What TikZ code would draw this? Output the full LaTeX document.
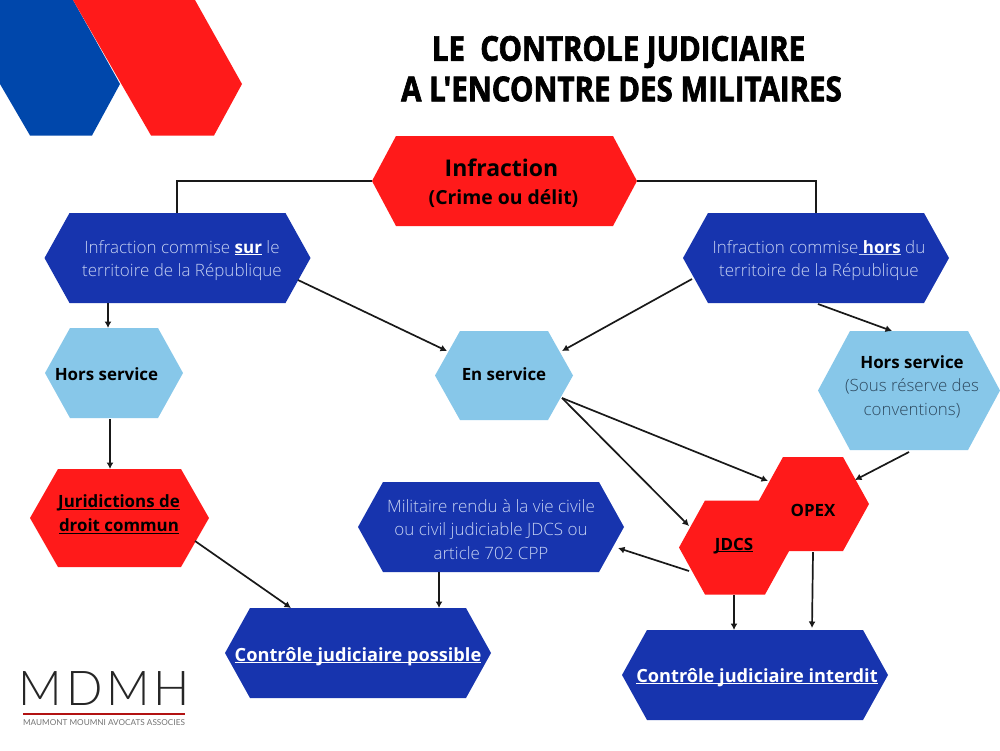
\documentclass[tikz,border=0pt]{standalone}
\usepackage{fontspec}
\setmainfont{Open Sans}
\newfontfamily\regf{Open Sans}
\newfontfamily\lightf[BoldFont=Open Sans Bold]{Open Sans Light}
\newfontfamily\titlef[FakeStretch=0.86,FakeBold=2]{Open Sans Bold}
\newfontfamily\logof[LetterSpace=8]{Lato Light}
\newfontfamily\logosmall{Lato}
\usetikzlibrary{shapes.symbols,calc,arrows.meta}
\definecolor{logoblue}{HTML}{0047AB}
\definecolor{hexred}{HTML}{FF1A1A}
\definecolor{hexblue}{HTML}{1734AE}
\definecolor{hexsky}{HTML}{87C7E9}
\definecolor{paletext}{HTML}{C6D2F2}
\definecolor{slatetext}{HTML}{2E4A60}
\newcommand\ubar[1]{\setbox0=\hbox{#1}\rlap{\rule[-2pt]{\wd0}{1.3pt}}\box0\relax}
\tikzset{
  x=1pt,y=-1pt,
  hx/.style n args={3}{shape=signal,signal to=east and west,
    signal pointer angle={2*atan((#2/2)/#3)},minimum width=#1pt,minimum height=#2pt,
    inner sep=0pt,outer sep=0pt,draw=none},
  conn/.style={draw=black!90,line width=1.7pt},
  arr/.style={conn,-{Latex[length=6.5pt,width=7pt]}},
  paletxt/.style={align=center,text=paletext,font=\lightf\fontsize{17}{23.3}\selectfont,inner sep=0pt},
  blacktxt/.style={align=center,text=black,font=\bfseries\fontsize{16.9}{24}\selectfont,inner sep=0pt},
  whitetxt/.style={align=center,text=white,font=\bfseries\fontsize{18.2}{22}\selectfont,inner sep=0pt},
  titletxt/.style={align=center,text=black,font=\titlef\fontsize{34.3}{38}\selectfont,inner sep=0pt},
}
\begin{document}
\begin{tikzpicture}
\useasboundingbox (0,0) rectangle (1000,750);
\fill[white] (0,0) rectangle (1000,750);
% logo
\fill[logoblue] (0,0) -- (73,0) -- (120,84) -- (92,135.5) -- (30,135.5) -- (0,84) -- cycle;
\fill[hexred] (73,0) -- (195,0) -- (242,84) -- (214,135.5) -- (151,135.5) -- cycle;
% title
\node[titletxt] (title1) at (618.5,52) {LE\ \ CONTROLE JUDICIAIRE};
\node[titletxt] (title2) at (621.5,89) {A L'ENCONTRE DES MILITAIRES};
% hexagons
\node[hx={265}{90}{24},fill=hexred] (inf) at (504.5,181) {};
\node[hx={266}{90}{25},fill=hexblue] (sur) at (177.5,258) {};
\node[hx={266}{90}{25},fill=hexblue] (hors) at (816,258) {};
\node[hx={138}{90}{25},fill=hexsky] (hsl) at (114,373) {};
\node[hx={138}{89}{25},fill=hexsky] (ens) at (504,375.5) {};
\node[hx={182}{119}{32},fill=hexsky] (hsr) at (909,390.5) {};
\node[hx={179}{98}{28},fill=hexred] (jur) at (119.5,518) {};
\node[hx={266}{90}{25},fill=hexblue] (mil) at (491,527) {};
\node[hx={266}{90}{25},fill=hexblue] (pos) at (358,653) {};
\node[hx={266}{90}{25},fill=hexblue] (int) at (755,675) {};
\node[hx={112}{94}{26},fill=hexred] (opex) at (813,504) {};
\node[hx={112}{94}{26},fill=hexred] (jdcs) at (735,547.5) {};
% texts
\node[align=center,inner sep=0pt,text=black,font=\bfseries\fontsize{23}{29}\selectfont] (inft) at (503.5,183)
  {\hspace{-4pt}Infraction\\[-1pt]{\fontsize{19.4}{29}\selectfont (Crime ou délit)}};
\node[paletxt] (surt) at (182,260.5) {Infraction commise {\bfseries\color{white}\ubar{sur}} le\\territoire de la République};
\node[paletxt] (horst) at (819,260.5) {Infraction commise\ubar{\ {\bfseries\color{white}hors}} du\\territoire de la République};
\node[blacktxt] (hslt) at (106.5,374.5) {Hors service};
\node[blacktxt] (enst) at (504,374.5) {En service};
\node[align=center,inner sep=0pt,text=slatetext,font=\lightf\fontsize{16.9}{23.5}\selectfont] (hsrt) at (912,386.5)
  {{\bfseries\color{black}Hors service}\\(Sous réserve des\\conventions)};
\node[blacktxt] (jurt) at (119,514.5) {\ubar{Juridictions de}\\\ubar{droit commun}};
\node[paletxt] (milt) at (491,529.5) {Militaire rendu à la vie civile\\ou civil judiciable JDCS ou\\article 702 CPP};
\node[whitetxt] (post) at (358,656.5) {\ubar{Contrôle judiciaire possible}};
\node[whitetxt] (intt) at (757,677.5) {\ubar{Contrôle judiciaire interdit}};
\node[blacktxt] (opext) at (813,510) {OPEX};
\node[blacktxt] (jdcst) at (734,546) {\ubar{JDCS}};
% connectors
\draw[conn] (inf.west) -| ($(sur)+(-0.5,-45)$);
\draw[conn] (inf.east) -| ($(hors)+(0,-45)$);
\draw[arr] ($(sur)+(-69.5,45)$) -- ($(hsl)+(-6,-45)$);
\draw[arr] ($(sur)+(120.5,22)$) -- ($(ens)+(-57,-24.5)$);
\draw[arr] ($(hors)+(-124,21)$) -- ($(ens)+(58,-24.5)$);
\draw[arr] ($(hors)+(2,46)$) -- ($(hsr)+(-17,-59.5)$);
\draw[arr] ($(hsl)+(-4,46)$) -- ($(jur)+(-9.5,-49)$);
\draw[arr] ($(jur)+(75.5,23)$) -- ($(pos)+(-67,-45)$);
\draw[arr] ($(mil)+(-52,45)$) -- ($(pos)+(81,-45)$);
\draw[arr] ($(ens)+(58,22.5)$) -- ($(opex)+(-45,-23)$);
\draw[arr] ($(ens)+(58,22.5)$) -- ($(jdcs)+(-46,-21.5)$);
\draw[arr] ($(hsr)+(0,61.5)$) -- ($(opex)+(42,-24)$);
\draw[arr] ($(jdcs)+(-46,23.5)$) -- ($(mil)+(127,21)$);
\draw[arr] ($(jdcs)+(-1,47.5)$) -- ($(int)+(-21,-45)$);
\draw[arr] ($(opex)+(0,48)$) -- ($(int)+(57,-47)$);
% firm logo
\node[inner sep=0pt,text=black!85,font=\logof\fontsize{48}{48}\selectfont,anchor=west] (mdmh) at (18.5,688.5) {MDMH};
\coordinate (ruleL) at (23,714);
\coordinate (ruleR) at (185,714);
\draw[draw=hexred!70!black,line width=1.1pt] (ruleL) -- (ruleR);
\node[inner sep=0pt,text=black!55,font=\logosmall\fontsize{8.2}{9}\selectfont] (firm) at (104,723) {MAUMONT MOUMNI AVOCATS ASSOCIES};
\end{tikzpicture}
\end{document}
